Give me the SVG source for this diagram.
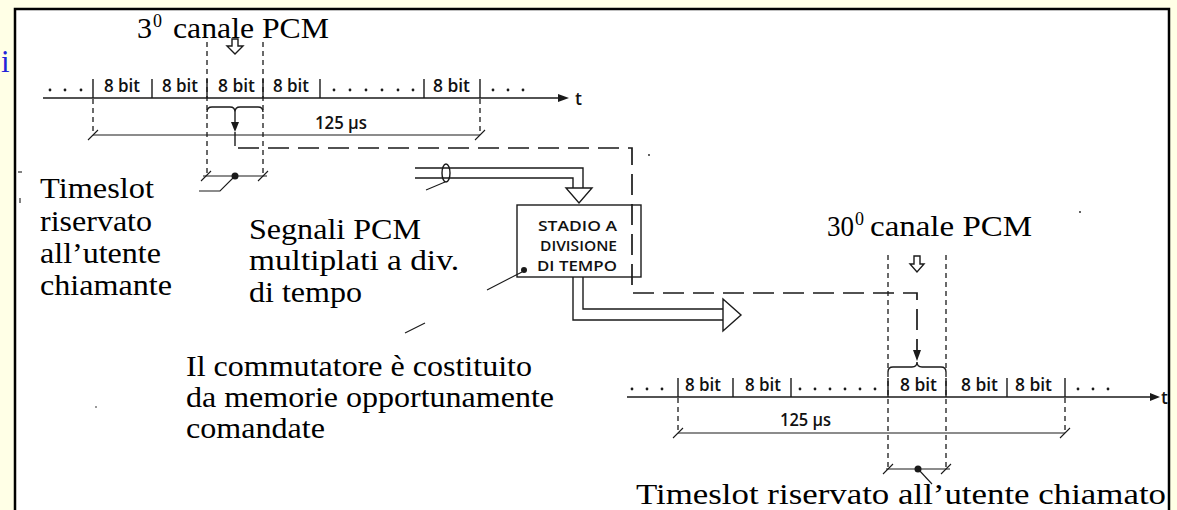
<svg xmlns="http://www.w3.org/2000/svg" width="1177" height="510" viewBox="0 0 1177 510">
<style>
.serif{font-family:"Liberation Serif","Times New Roman",serif;font-size:30px;fill:#000}
.sup{font-family:"Liberation Serif","Times New Roman",serif;font-size:18px;fill:#000}
.sans{font-family:"Open Sans","Liberation Sans",sans-serif;font-size:17.5px;font-weight:600;fill:#111}
.box{font-family:"Open Sans","Liberation Sans",sans-serif;font-size:15px;font-weight:600;fill:#111}
.ln{stroke:#1a1a1a;stroke-width:1.4;fill:none}
.thin{stroke:#1a1a1a;stroke-width:1.1;fill:none}
.dsh{stroke:#1a1a1a;stroke-width:1.3;fill:none;stroke-dasharray:5 4}
.ldsh{stroke:#1a1a1a;stroke-width:1.7;fill:none;stroke-dasharray:21 9}
.dot{fill:#1a1a1a}
.hollow{stroke:#1a1a1a;stroke-width:1.4;fill:#fff;stroke-linejoin:miter}
</style>
<rect x="0" y="0" width="1177" height="510" fill="#FFFFE6"/>
<rect x="15" y="9" width="1154" height="530" fill="#fff" stroke="#000" stroke-width="2.5"/>
<text x="1" y="72" font-family="Liberation Serif, serif" font-size="31" fill="#2323d9">i</text>
<g id="edge-marks">
<line x1="18" y1="172" x2="22" y2="172" class="thin"/>
<line x1="20" y1="198" x2="20" y2="203" class="thin"/>
<circle cx="649" cy="155" r="0.9" class="dot"/>
<circle cx="1080" cy="212" r="0.9" class="dot"/>
<circle cx="96" cy="407" r="0.8" class="dot"/>
</g>

<g id="timeline-top">
<line x1="43" y1="98" x2="560" y2="98" class="ln"/>
<polygon points="558,94 569,98 558,102" class="dot"/>
<text x="575" y="105" class="sans" font-size="18">t</text>
<path d="M93,79V98M152,79V98M207,79V98M263,79V98M320,79V98M424,79V98M480,79V98" class="ln"/>
<text x="104" y="92" class="sans" textLength="36" lengthAdjust="spacingAndGlyphs">8 bit</text>
<text x="162" y="92" class="sans" textLength="36" lengthAdjust="spacingAndGlyphs">8 bit</text>
<text x="218" y="92" class="sans" textLength="37" lengthAdjust="spacingAndGlyphs">8 bit</text>
<text x="273" y="92" class="sans" textLength="36" lengthAdjust="spacingAndGlyphs">8 bit</text>
<text x="433" y="92" class="sans" textLength="37" lengthAdjust="spacingAndGlyphs">8 bit</text>
<g class="dot">
<circle cx="50" cy="90" r="1.4"/><circle cx="65" cy="90" r="1.4"/><circle cx="81" cy="90" r="1.4"/>
<circle cx="334" cy="90" r="1.4"/><circle cx="350" cy="90" r="1.4"/><circle cx="366" cy="90" r="1.4"/><circle cx="382" cy="90" r="1.4"/><circle cx="398" cy="90" r="1.4"/><circle cx="413" cy="90" r="1.4"/>
<circle cx="493" cy="90" r="1.4"/><circle cx="508" cy="90" r="1.4"/><circle cx="523" cy="90" r="1.4"/>
</g>
<path d="M93,99V135M480,99V135M207,42V177M263,42V177" class="dsh"/>
<line x1="93" y1="135" x2="480" y2="135" class="thin"/>
<path d="M88,140L98,130M475,140L485,130" class="thin"/>
<text x="315" y="129" class="sans" textLength="52" lengthAdjust="spacingAndGlyphs">125 µs</text>
<path d="M207,112Q207,107 212,107L230,107Q235,107 235,112Q235,107 240,107L258,107Q263,107 263,112" class="ln"/>
</g>

<g id="label-ch3">
<text x="137" y="38" class="serif" textLength="15" lengthAdjust="spacingAndGlyphs">3</text>
<text x="153" y="27" class="sup" textLength="9" lengthAdjust="spacingAndGlyphs">0</text>
<text x="173" y="38" class="serif" textLength="156" lengthAdjust="spacingAndGlyphs">canale PCM</text>
<path d="M232,39V46H227L235,54L243,46H238V39Z" class="hollow"/>
</g>

<g id="timeslot-calling">
<line x1="203" y1="176" x2="267" y2="176" class="thin"/>
<path d="M201,181L211,171M258,181L268,171" class="thin"/>
<circle cx="235" cy="176" r="3.5" class="dot"/>
<path d="M235,176L220,191H199" class="thin"/>
<text x="40" y="198" class="serif" textLength="114" lengthAdjust="spacingAndGlyphs">Timeslot</text>
<text x="40" y="231" class="serif" textLength="112" lengthAdjust="spacingAndGlyphs">riservato</text>
<text x="40" y="263" class="serif" textLength="121" lengthAdjust="spacingAndGlyphs">all’utente</text>
<text x="40" y="295" class="serif" textLength="132" lengthAdjust="spacingAndGlyphs">chiamante</text>
</g>

<g id="pcm-label">
<ellipse cx="446" cy="173" rx="4" ry="9" class="ln"/>
<line x1="445" y1="182" x2="426" y2="190" class="thin"/>
<text x="249" y="239" class="serif" textLength="172" lengthAdjust="spacingAndGlyphs">Segnali PCM</text>
<text x="249" y="270" class="serif" textLength="210" lengthAdjust="spacingAndGlyphs">multiplati a div.</text>
<text x="249" y="302" class="serif" textLength="113" lengthAdjust="spacingAndGlyphs">di tempo</text>
</g>

<g id="switch">
<rect x="517" y="205" width="124" height="72" fill="#fff" class="ln"/>
<text x="538" y="231" class="box" textLength="79" lengthAdjust="spacingAndGlyphs">STADIO A</text>
<text x="540" y="251" class="box" textLength="77" lengthAdjust="spacingAndGlyphs">DIVISIONE</text>
<text x="537" y="271" class="box" textLength="80" lengthAdjust="spacingAndGlyphs">DI TEMPO</text>
<circle cx="524" cy="270" r="3" class="dot"/>
<line x1="522" y1="272" x2="487" y2="290" class="thin"/>
<line x1="425" y1="323" x2="405" y2="333" class="thin"/>
</g>

<g id="note-memory">
<text x="186" y="376" class="serif" textLength="346" lengthAdjust="spacingAndGlyphs">Il commutatore è costituito</text>
<text x="186" y="407" class="serif" textLength="368" lengthAdjust="spacingAndGlyphs">da memorie opportunamente</text>
<text x="186" y="438" class="serif" textLength="139" lengthAdjust="spacingAndGlyphs">comandate</text>
</g>

<g id="label-ch30">
<text x="827" y="236" class="serif" textLength="27" lengthAdjust="spacingAndGlyphs">30</text>
<text x="855" y="225" class="sup" textLength="9" lengthAdjust="spacingAndGlyphs">0</text>
<text x="870" y="236" class="serif" textLength="162" lengthAdjust="spacingAndGlyphs">canale PCM</text>
<path d="M914,256V264H910L917,272L924,264H920V256Z" class="hollow"/>
</g>

<g id="timeline-bottom">
<line x1="627" y1="397" x2="1152" y2="397" class="ln"/>
<polygon points="1150,393 1160,397 1150,401" class="dot"/>
<text x="1161" y="404" class="sans" font-size="18">t</text>
<path d="M678,378V397M733,378V397M791,378V397M888,378V397M946,378V397M1007,378V397M1065,378V397" class="ln"/>
<text x="685" y="391" class="sans" textLength="36" lengthAdjust="spacingAndGlyphs">8 bit</text>
<text x="745" y="391" class="sans" textLength="36" lengthAdjust="spacingAndGlyphs">8 bit</text>
<text x="900" y="391" class="sans" textLength="37" lengthAdjust="spacingAndGlyphs">8 bit</text>
<text x="961" y="391" class="sans" textLength="37" lengthAdjust="spacingAndGlyphs">8 bit</text>
<text x="1015" y="391" class="sans" textLength="37" lengthAdjust="spacingAndGlyphs">8 bit</text>
<g class="dot">
<circle cx="632" cy="389" r="1.4"/><circle cx="647" cy="389" r="1.4"/><circle cx="662" cy="389" r="1.4"/>
<circle cx="800" cy="389" r="1.4"/><circle cx="815" cy="389" r="1.4"/><circle cx="830" cy="389" r="1.4"/><circle cx="845" cy="389" r="1.4"/><circle cx="860" cy="389" r="1.4"/><circle cx="875" cy="389" r="1.4"/>
<circle cx="1078" cy="389" r="1.4"/><circle cx="1093" cy="389" r="1.4"/><circle cx="1108" cy="389" r="1.4"/>
</g>
<path d="M678,398V433M1065,398V433M888,255V470M946,255V470" class="dsh"/>
<line x1="678" y1="433" x2="1065" y2="433" class="thin"/>
<path d="M673,438L683,428M1060,438L1070,428" class="thin"/>
<text x="780" y="426" class="sans" textLength="51" lengthAdjust="spacingAndGlyphs">125 µs</text>
<path d="M888,372Q888,367 893,367L912,367Q917,367 917,362Q917,367 922,367L941,367Q946,367 946,372" class="ln"/>
</g>

<g id="timeslot-called">
<line x1="886" y1="469" x2="950" y2="469" class="thin"/>
<path d="M883,474L893,464M941,474L951,464" class="thin"/>
<circle cx="918" cy="469" r="3.5" class="dot"/>
<line x1="918" y1="469" x2="932" y2="484" class="thin"/>
<text x="636" y="504" class="serif" textLength="530" lengthAdjust="spacingAndGlyphs">Timeslot riservato all’utente chiamato</text>
</g>

<g id="connectors">
<path d="M235,112V122" class="ln"/>
<polygon points="231,122 239,122 235,132" class="dot"/>
<path d="M235,132V146" class="ln"/>
<path d="M238,148H632V293H917V350" class="ldsh"/>
<polygon points="913,350 921,350 917,361" class="dot"/>
<path d="M415,168H583V188M415,178H573V188" class="ln"/>
<polygon points="566,188 592,188 579,203" class="hollow"/>
<path d="M573,277V320H723M583,277V309H723" class="ln"/>
<polygon points="723,299 741,315 723,331" class="hollow"/>
</g>
</svg>
